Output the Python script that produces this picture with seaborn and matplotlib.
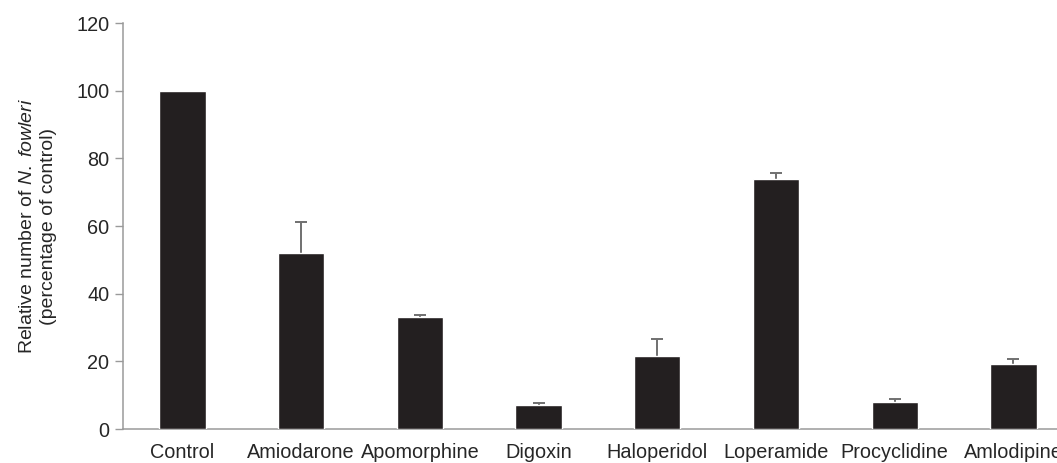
import numpy as np
import pandas as pd
import matplotlib
matplotlib.use("Agg")
import matplotlib.pyplot as plt
import seaborn as sns

# data
drugs = ['Control', 'Amiodarone', 'Apomorphine', 'Digoxin', 'Haloperidol',
         'Loperamide', 'Procyclidine', 'Amlodipine']
rel_number = [100, 52.1, 33.2, 7.0, 21.6, 73.8, 8.0, 19.1]
sem = [0, 9.2, 0.6, 0.6, 5.0, 2.0, 0.9, 1.5]

df = pd.DataFrame({'Drug': drugs, 'Relative': rel_number, 'SEM': sem})

sns.set_style('white')
plt.rcParams['font.family'] = ['Liberation Sans', 'DejaVu Sans']
plt.rcParams['mathtext.fontset'] = 'custom'
plt.rcParams['mathtext.it'] = 'Liberation Sans:italic'
plt.rcParams['mathtext.rm'] = 'Liberation Sans'

fig = plt.figure(figsize=(10.57, 4.63), dpi=100)
ax = fig.add_axes([0.1164, 0.0734, 0.8986, 0.8769])

sns.barplot(data=df, x='Drug', y='Relative', color='#231f20', saturation=1,
            width=0.39, errorbar=None, ax=ax, zorder=3)

# upper-only error bars (drop the cap at the bar top)
pos = np.arange(len(drugs))
mask = (df['SEM'] > 0).to_numpy()
vals = df['Relative'].to_numpy()[mask]
err = df['SEM'].to_numpy()[mask]
_, caps, _ = ax.errorbar(pos[mask], vals, yerr=[np.zeros(mask.sum()), err],
                         fmt='none', ecolor='#707070', elinewidth=1.4,
                         capsize=4, capthick=1.4, zorder=2)
for cap in caps:
    if np.allclose(cap.get_ydata(), vals):
        cap.remove()

ax.set_xlim(-0.5, 7.5)
ax.set_ylim(0, 120)
ax.set_yticks(range(0, 121, 20))
ax.set_xticks(pos)
ax.set_xticklabels(drugs)
ax.set_xticks(pos[:-1] + 0.5, minor=True)
ax.tick_params(axis='x', which='major', length=0, pad=10, labelsize=14.3)
ax.tick_params(axis='x', which='minor', length=5, width=1, color='#9a9a9a', direction='out')
ax.tick_params(axis='y', length=6, width=1, color='#9a9a9a', direction='out',
               labelsize=14.3, pad=4, left=True)
ax.set_xlabel('')
ax.set_ylabel('Relative number of $\\it{N.\\ fowleri}$\n(percentage of control)',
              fontsize=14, labelpad=14, linespacing=1.3)

sns.despine(ax=ax)
for side in ['left', 'bottom']:
    ax.spines[side].set_color('#9a9a9a')
    ax.spines[side].set_linewidth(1.1)

fig.savefig('out.png', dpi=100)
